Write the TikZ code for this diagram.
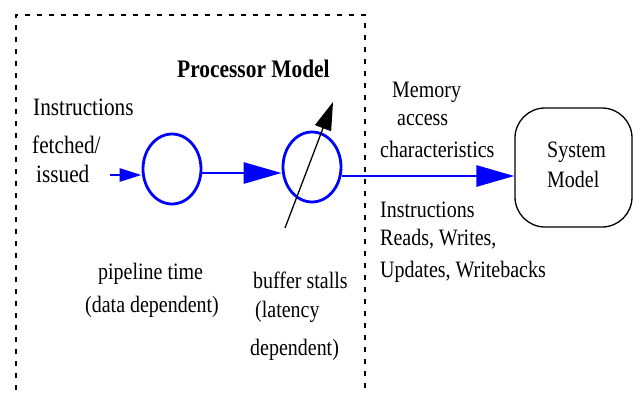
\documentclass[tikz,border=0pt]{standalone}
\usepackage{fontspec}
\setmainfont{Liberation Serif}[FakeStretch=0.85]
\usetikzlibrary{arrows.meta,shapes.geometric}
\begin{document}
\begin{tikzpicture}[x=1pt,y=-1pt,
  lbl/.style={font=\fontsize{23.5}{28}\selectfont, inner sep=0pt, anchor=base west},
  lblbig/.style={font=\fontsize{25}{30}\selectfont, inner sep=0pt, anchor=base west},
  stage/.style={draw=blue, line width=2.8pt, ellipse, minimum width=58pt, minimum height=70pt, inner sep=0pt},
  flow/.style={draw=blue, line width=2.8pt},
  boundary/.style={line width=1.4pt, dash pattern=on 5pt off 7pt}]
\useasboundingbox (0,0) rectangle (634,394);
% dashed processor boundary
\coordinate (b1) at (16,390);
\coordinate (b2) at (16,15);
\coordinate (b3) at (365,15);
\coordinate (b4) at (365,390);
\draw[boundary] (b1) -- (b2) -- (b3) -- (b4);
% stages
\node[stage] (c1) at (172,169) {};
\node[stage] (c2) at (312,167) {};
\node[draw, line width=1.3pt, rounded corners=30pt, minimum width=117pt, minimum height=119pt] (sys) at (573.5,167.5) {};
\node[font=\fontsize{23.5}{28}\selectfont, inner sep=0pt, anchor=base west] (sysA) at (547,157) {System};
\node[font=\fontsize{23.5}{28}\selectfont, inner sep=0pt, anchor=base west] (sysB) at (547,187) {Model};
% flow arrows
\coordinate (in) at (110,175);
\coordinate (ymid) at (0,173);
\coordinate (yout) at (0,176);
\draw[flow, -{Triangle[length=22pt,width=13pt]}] (in) -- (in -| c1.west);
\draw[flow, -{Triangle[length=38pt,width=21pt]}] (c1.east |- ymid) -- (c2.west |- ymid);
\draw[flow, -{Triangle[length=38pt,width=21pt]}] (c2.east |- yout) -- (sys.west |- yout);
% variable arrow through buffer stage
\coordinate (sa) at (285,228);
\coordinate (sb) at (333,102);
\draw[line width=1.3pt, -{Triangle[length=28pt,width=17pt]}] (sa) -- (sb);
% labels
\node[font=\bfseries\fontsize{25.2}{30}\selectfont, inner sep=0pt, anchor=base west] (pm) at (177,77) {Processor Model};
\node[lblbig] (i1) at (33,115) {Instructions};
\node[lblbig] (i2) at (32,153) {fetched/};
\node[lblbig] (i3) at (36,182) {issued};
\node[lbl] (p1) at (98,279) {pipeline time};
\node[lbl] (p2) at (85,312) {(data dependent)};
\node[lbl] (s1) at (253,288) {buffer stalls};
\node[lbl] (s2) at (255,317) {(latency};
\node[lbl] (s3) at (250,355) {dependent)};
\node[lbl] (m1) at (392,97) {Memory};
\node[lbl] (m2) at (397,125) {access};
\node[lbl] (m3) at (380,157) {characteristics};
\node[lbl] (r1) at (380,217) {Instructions};
\node[lbl] (r2) at (380,245) {Reads, Writes,};
\node[lbl] (r3) at (380,277) {Updates, Writebacks};
\end{tikzpicture}
\end{document}
